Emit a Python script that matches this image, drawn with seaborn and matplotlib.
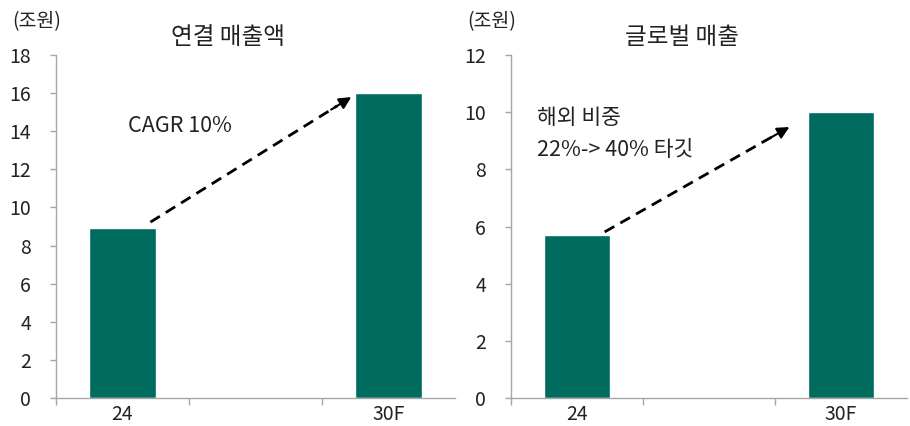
import numpy as np
import pandas as pd
import seaborn as sns
from matplotlib import pyplot as plt

# 데이터
years = ["24", " ", "30F"]
consolidated_sales = [8.9, np.nan, 16.0]   # 연결 매출액 (조원)
global_sales = [5.7, np.nan, 10.0]         # 글로벌 매출 (조원)

left_yticks = [0, 2, 4, 6, 8, 10, 12, 14, 16, 18]
right_yticks = [0, 2, 4, 6, 8, 10, 12]

bar_color = "#006B5F"
axis_color = "#A6A6A6"
text_color = "#222222"

sns.set_theme(style="white")
plt.rcParams['font.family'] = ['Noto Sans CJK KR', 'DejaVu Sans']

fig = plt.figure(figsize=(9.1, 4.26), dpi=100)
ax1 = fig.add_axes([0.0615, 0.0657, 0.4385, 0.8052])
ax2 = fig.add_axes([0.5615, 0.0657, 0.435, 0.8052])

fs = 14


def draw_panel(ax, values, yticks, title):
    df = pd.DataFrame({"year": years, "value": values})
    sns.barplot(data=df, x="year", y="value", order=years, color=bar_color,
                width=0.5, saturation=1, ax=ax)
    ax.set_xlim(-0.5, 2.5)
    ax.set_ylim(yticks[0], yticks[-1])
    ax.set_yticks(yticks)
    ax.set_xlabel("")
    ax.set_ylabel("")
    for s in ["top", "right"]:
        ax.spines[s].set_visible(False)
    for s in ["left", "bottom"]:
        ax.spines[s].set_color(axis_color)
        ax.spines[s].set_linewidth(1)
    # 카테고리 경계에 눈금
    ax.set_xticks([-0.5, 0.5, 1.5], minor=True)
    ax.tick_params(axis="x", which="major", length=0, pad=4,
                   labelsize=fs, labelcolor=text_color)
    ax.tick_params(axis="x", which="minor", length=5, color=axis_color, width=1,
                   direction="out", bottom=True)
    ax.tick_params(axis="y", length=4, color=axis_color, width=1, left=True,
                   pad=14, labelsize=fs, labelcolor=text_color)
    ax.text(0.431, 1.05, title, transform=ax.transAxes, ha="center", va="center",
            fontsize=17, color=text_color)
    ax.text(-0.048, 1.096, "(조원)", transform=ax.transAxes, ha="center", va="center",
            fontsize=14, color=text_color)


def dashed_arrow(ax, start, tip):
    sx, sy = start
    tx, ty = tip
    # 화살표 머리 직전까지 점선
    ax.plot([sx, sx + (tx - sx) * 0.93], [sy, sy + (ty - sy) * 0.93],
            color="black", lw=2, ls=(0, (4, 2.5)))
    ax.annotate("", xy=(tx, ty),
                xytext=(sx + (tx - sx) * 0.9, sy + (ty - sy) * 0.9),
                arrowprops=dict(arrowstyle="-|>", color="black", lw=1.5,
                                mutation_scale=18, shrinkA=0, shrinkB=0))


draw_panel(ax1, consolidated_sales, left_yticks, "연결 매출액")
dashed_arrow(ax1, (0.21, 9.23), (1.72, 15.79))
ax1.text(0.045, 14.3, "CAGR 10%", ha="left", va="center", fontsize=15.5, color=text_color)

draw_panel(ax2, global_sales, right_yticks, "글로벌 매출")
dashed_arrow(ax2, (0.21, 5.81), (1.61, 9.48))
ax2.text(-0.30, 9.8, "해외 비중", ha="left", va="center", fontsize=15.5, color=text_color)
ax2.text(-0.30, 8.68, "22%-> 40% 타깃", ha="left", va="center", fontsize=15.5, color=text_color)

fig.savefig("out.png", dpi=100)
